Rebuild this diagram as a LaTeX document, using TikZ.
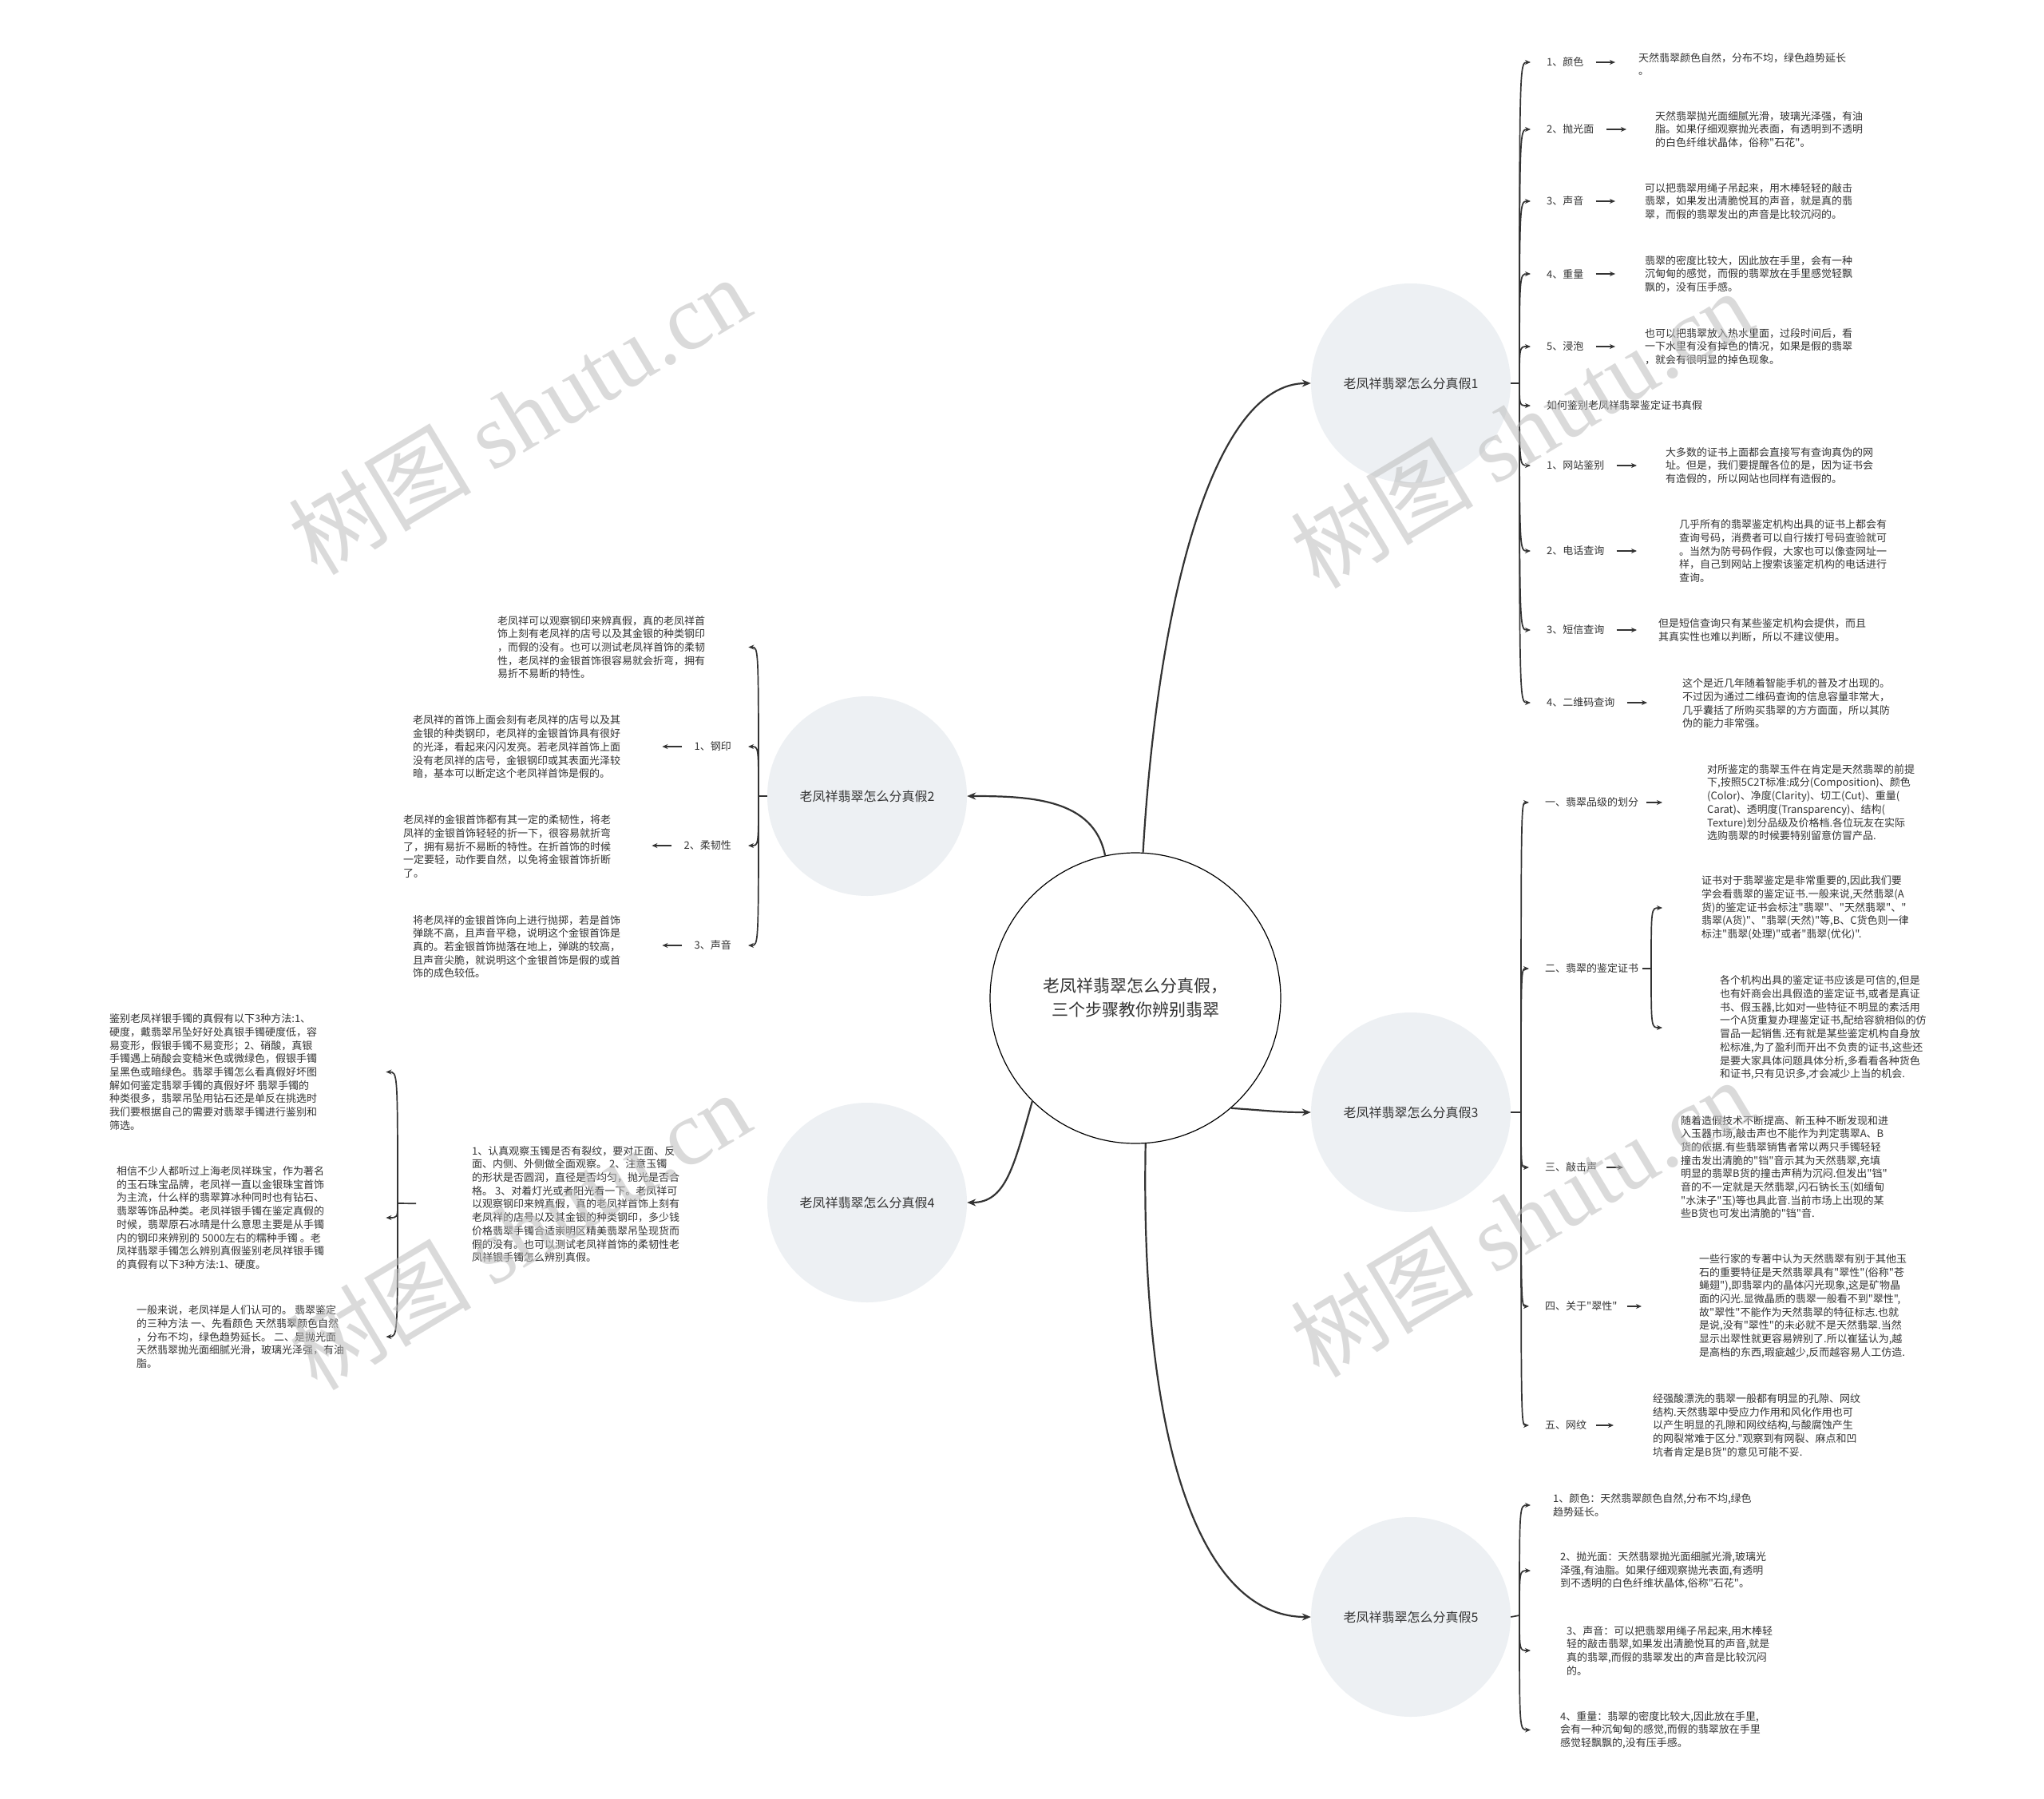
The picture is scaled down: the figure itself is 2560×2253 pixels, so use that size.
\documentclass[tikz,border=0pt]{standalone}
\usepackage{fontspec}
\setmainfont{Noto Sans CJK SC}[Ligatures=TeXOff]
\newfontfamily\wmlatin{Liberation Serif}
\usetikzlibrary{arrows.meta}
\definecolor{tc}{HTML}{333333}
\definecolor{lc}{HTML}{333333}
\definecolor{bf}{HTML}{EDF0F3}
\definecolor{wmc}{HTML}{BDBDBD}
\begin{document}
\begin{tikzpicture}[x=1pt,y=-1pt,
  txt/.style={font=\fontsize{13}{16.7}\selectfont, text=tc, align=left, inner sep=0pt, anchor=west},
  lab/.style={font=\fontsize{13}{16.7}\selectfont, text=tc, inner sep=0pt, anchor=west},
  labr/.style={font=\fontsize{13}{16.7}\selectfont, text=tc, inner sep=0pt, anchor=east},
  centerc/.style={circle, draw=black, line width=1.2pt, fill=white, minimum size=364pt, inner sep=0pt, align=center, font=\fontsize{21}{30}\selectfont, text=tc},
  br/.style={circle, fill=bf, draw=none, minimum size=250pt, inner sep=0pt, font=\fontsize{16}{20}\selectfont, text=tc},
  marr/.style={draw=lc, line width=2.2pt, -{Stealth[length=11pt,width=9pt]}},
  spine/.style={draw=lc, line width=1.7pt, -{Stealth[length=7pt,width=6pt]}},
  sarr/.style={draw=lc, line width=1.7pt, -{Stealth[length=7pt,width=6pt]}},
  stubl/.style={draw=lc, line width=1.7pt},
  wm/.style={font=\fontsize{115}{115}\selectfont, text=wmc, opacity=0.55, rotate=31, inner sep=0pt}
]
\useasboundingbox (0,0) rectangle (2560,2253);
\fill[white] (0,0) rectangle (2560,2253);

% ---------- central and branch nodes ----------
\node[centerc] (c) at (1422,1250) {老凤祥翡翠怎么分真假，\\三个步骤教你辨别翡翠};
\node[br] (b1) at (1767,480) {老凤祥翡翠怎么分真假1};
\node[br] (b2) at (1086,997) {老凤祥翡翠怎么分真假2};
\node[br] (b3) at (1767,1393) {老凤祥翡翠怎么分真假3};
\node[br] (b4) at (1086,1506) {老凤祥翡翠怎么分真假4};
\node[br] (b5) at (1767,2025) {老凤祥翡翠怎么分真假5};

\draw[marr] (c.87) .. controls (1450,750) and (1520,480) .. (b1.west);
\draw[marr] (c.102) .. controls (1370,1000) and (1290,997) .. (b2.east);
\draw[marr] (c.-49) .. controls (1590,1391) and (1600,1393) .. (b3.west);
\draw[marr] (c.-135) .. controls (1270,1460) and (1260,1506) .. (b4.east);
\draw[marr] (c.-86) .. controls (1428,1800) and (1500,2025) .. (b5.west);

% ---------- branch 1 ----------
\coordinate (h1) at (1903,480);
\draw[stubl] (b1.east) -- (h1);
\node[lab] (l11) at (1937,78) {1、颜色};
\node[txt] (t11) at (2052,80.5) {天然翡翠颜色自然，分布不均，绿色趋势延长\\。};
\node[lab] (l12) at (1937,162) {2、抛光面};
\node[txt] (t12) at (2073,162) {天然翡翠抛光面细腻光滑，玻璃光泽强，有油\\脂。如果仔细观察抛光表面，有透明到不透明\\的白色纤维状晶体，俗称"石花"。};
\node[lab] (l13) at (1937,252) {3、声音};
\node[txt] (t13) at (2060,252) {可以把翡翠用绳子吊起来，用木棒轻轻的敲击\\翡翠，如果发出清脆悦耳的声音，就是真的翡\\翠，而假的翡翠发出的声音是比较沉闷的。};
\node[lab] (l14) at (1937,343) {4、重量};
\node[txt] (t14) at (2060,343) {翡翠的密度比较大，因此放在手里，会有一种\\沉甸甸的感觉，而假的翡翠放在手里感觉轻飘\\飘的，没有压手感。};
\node[lab] (l15) at (1937,434) {5、浸泡};
\node[txt] (t15) at (2060,434) {也可以把翡翠放入热水里面，过段时间后，看\\一下水里有没有掉色的情况，如果是假的翡翠\\，就会有很明显的掉色现象。};
\node[lab] (l16) at (1937,508) {如何鉴别老凤祥翡翠鉴定证书真假};
\node[lab] (l17) at (1937,583) {1、网站鉴别};
\node[txt] (t17) at (2086,583) {大多数的证书上面都会直接写有查询真伪的网\\址。但是，我们要提醒各位的是，因为证书会\\有造假的，所以网站也同样有造假的。};
\node[lab] (l18) at (1937,690) {2、电话查询};
\node[txt] (t18) at (2103,690) {几乎所有的翡翠鉴定机构出具的证书上都会有\\查询号码，消费者可以自行拨打号码查验就可\\。当然为防号码作假，大家也可以像查网址一\\样，自己到网站上搜索该鉴定机构的电话进行\\查询。};
\node[lab] (l19) at (1937,789) {3、短信查询};
\node[txt] (t19) at (2077,789.5) {但是短信查询只有某些鉴定机构会提供，而且\\其真实性也难以判断，所以不建议使用。};
\node[lab] (l1a) at (1937,880) {4、二维码查询};
\node[txt] (t1a) at (2107,881) {这个是近几年随着智能手机的普及才出现的。\\不过因为通过二维码查询的信息容量非常大，\\几乎囊括了所购买翡翠的方方面面，所以其防\\伪的能力非常强。};

\foreach \n in {l11,l12,l13,l14,l15,l16,l17,l18,l19,l1a}
  \draw[spine,shorten >=20pt] (h1) .. controls (h1 |- \n) .. (\n.west);
\draw[sarr,shorten <=15pt,shorten >=29pt] (l11.east) -- (l11.east -| t11.west);
\draw[sarr,shorten <=15pt,shorten >=36pt] (l12.east) -- (l12.east -| t12.west);
\draw[sarr,shorten <=15pt,shorten >=37pt] (l13.east) -- (l13.east -| t13.west);
\draw[sarr,shorten <=15pt,shorten >=37pt] (l14.east) -- (l14.east -| t14.west);
\draw[sarr,shorten <=15pt,shorten >=37pt] (l15.east) -- (l15.east -| t15.west);
\draw[sarr,shorten <=15pt,shorten >=36pt] (l17.east) -- (l17.east -| t17.west);
\draw[sarr,shorten <=15pt,shorten >=53pt] (l18.east) -- (l18.east -| t18.west);
\draw[sarr,shorten <=15pt,shorten >=27pt] (l19.east) -- (l19.east -| t19.west);
\draw[sarr,shorten <=15pt,shorten >=44pt] (l1a.east) -- (l1a.east -| t1a.west);

% ---------- branch 3 ----------
\coordinate (h3) at (1905,1393);
\draw[stubl] (b3.east) -- (h3);
\node[lab] (l31) at (1935,1005) {一、翡翠品级的划分};
\node[txt] (t31) at (2138,1005) {对所鉴定的翡翠玉件在肯定是天然翡翠的前提\\下,按照5C2T标准:成分(Composition)、颜色\\(Color)、净度(Clarity)、切工(Cut)、重量(\\Carat)、透明度(Transparency)、结构(\\Texture)划分品级及价格档.各位玩友在实际\\选购翡翠的时候要特别留意仿冒产品.};
\node[lab] (l32) at (1935,1213) {二、翡翠的鉴定证书};
\coordinate (h32) at (2068,1213);
\node[txt] (t32a) at (2131,1137) {证书对于翡翠鉴定是非常重要的,因此我们要\\学会看翡翠的鉴定证书.一般来说,天然翡翠(A\\货)的鉴定证书会标注"翡翠"、"天然翡翠"、"\\翡翠(A货)"、"翡翠(天然)"等,B、C货色则一律\\标注"翡翠(处理)"或者"翡翠(优化)".};
\node[txt] (t32b) at (2154,1287) {各个机构出具的鉴定证书应该是可信的,但是\\也有奸商会出具假造的鉴定证书,或者是真证\\书、假玉器,比如对一些特征不明显的素活用\\一个A货重复办理鉴定证书,配给容貌相似的仿\\冒品一起销售.还有就是某些鉴定机构自身放\\松标准,为了盈利而开出不负责的证书,这些还\\是要大家具体问题具体分析,多看看各种货色\\和证书,只有见识多,才会减少上当的机会.};
\node[lab] (l33) at (1935,1462) {三、敲击声};
\node[txt] (t33) at (2105,1461.5) {随着造假技术不断提高、新玉种不断发现和进\\入玉器市场,敲击声也不能作为判定翡翠A、B\\货的依据.有些翡翠销售者常以两只手镯轻轻\\撞击发出清脆的"铛"音示其为天然翡翠,充填\\明显的翡翠B货的撞击声稍为沉闷.但发出"铛"\\音的不一定就是天然翡翠,闪石钠长玉(如缅甸\\"水沫子"玉)等也具此音.当前市场上出现的某\\些B货也可发出清脆的"铛"音.};
\node[lab] (l34) at (1935,1636) {四、关于"翠性"};
\node[txt] (t34) at (2128,1635.5) {一些行家的专著中认为天然翡翠有别于其他玉\\石的重要特征是天然翡翠具有"翠性"(俗称"苍\\蝇翅"),即翡翠内的晶体闪光现象,这是矿物晶\\面的闪光.显微晶质的翡翠一般看不到"翠性",\\故"翠性"不能作为天然翡翠的特征标志.也就\\是说,没有"翠性"的未必就不是天然翡翠.当然\\显示出翠性就更容易辨别了.所以崔猛认为,越\\是高档的东西,瑕疵越少,反而越容易人工仿造.};
\node[lab] (l35) at (1935,1785) {五、网纹};
\node[txt] (t35) at (2070,1785) {经强酸漂洗的翡翠一般都有明显的孔隙、网纹\\结构.天然翡翠中受应力作用和风化作用也可\\以产生明显的孔隙和网纹结构,与酸腐蚀产生\\的网裂常难于区分."观察到有网裂、麻点和凹\\坑者肯定是B货"的意见可能不妥.};

\foreach \n in {l31,l32,l33,l34,l35}
  \draw[spine,shorten >=20pt] (h3) .. controls (h3 |- \n) .. (\n.west);
\draw[sarr,shorten <=10pt,shorten >=56pt] (l31.east) -- (l31.east -| t31.west);
\draw[stubl,shorten <=5pt] (l32.east) -- (h32);
\draw[spine,shorten >=49pt] (h32) .. controls (h32 |- t32a) .. (t32a.west);
\draw[spine,shorten >=72pt] (h32) .. controls (h32 |- t32b) .. (t32b.west);
\draw[sarr,shorten <=12pt,shorten >=72pt] (l33.east) -- (l33.east -| t33.west);
\draw[sarr,shorten <=12pt,shorten >=72pt] (l34.east) -- (l34.east -| t34.west);
\draw[sarr,shorten <=12pt,shorten >=49pt] (l35.east) -- (l35.east -| t35.west);

% ---------- branch 5 ----------
\coordinate (h5) at (1903,2023);
\draw[stubl] (b5.east) -- (h5);
\node[txt] (t51) at (1945,1885) {1、颜色：天然翡翠颜色自然,分布不均,绿色\\趋势延长。};
\node[txt] (t52) at (1954,1967) {2、抛光面：天然翡翠抛光面细腻光滑,玻璃光\\泽强,有油脂。如果仔细观察抛光表面,有透明\\到不透明的白色纤维状晶体,俗称"石花"。};
\node[txt] (t53) at (1962,2067) {3、声音：可以把翡翠用绳子吊起来,用木棒轻\\轻的敲击翡翠,如果发出清脆悦耳的声音,就是\\真的翡翠,而假的翡翠发出的声音是比较沉闷\\的。};
\node[txt] (t54) at (1954,2166.5) {4、重量：翡翠的密度比较大,因此放在手里,\\会有一种沉甸甸的感觉,而假的翡翠放在手里\\感觉轻飘飘的,没有压手感。};
\draw[spine,shorten >=28pt] (h5) .. controls (h5 |- t51) .. (t51.west);
\draw[spine,shorten >=37pt] (h5) .. controls (h5 |- t52) .. (t52.west);
\draw[spine,shorten >=45pt] (h5) .. controls (h5 |- t53) .. (t53.west);
\draw[spine,shorten >=37pt] (h5) .. controls (h5 |- t54) .. (t54.west);

% ---------- branch 2 ----------
\coordinate (h2) at (950,997);
\draw[stubl] (b2.west) -- (h2);
\node[txt] (t21) at (623,810.5) {老凤祥可以观察钢印来辨真假，真的老凤祥首\\饰上刻有老凤祥的店号以及其金银的种类钢印\\，而假的没有。也可以测试老凤祥首饰的柔韧\\性，老凤祥的金银首饰很容易就会折弯，拥有\\易折不易断的特性。};
\node[labr] (l22) at (916,935) {1、钢印};
\node[txt] (t22) at (517,935.5) {老凤祥的首饰上面会刻有老凤祥的店号以及其\\金银的种类钢印，老凤祥的金银首饰具有很好\\的光泽，看起来闪闪发亮。若老凤祥首饰上面\\没有老凤祥的店号，金银钢印或其表面光泽较\\暗，基本可以断定这个老凤祥首饰是假的。};
\node[labr] (l23) at (916,1059) {2、柔韧性};
\node[txt] (t23) at (505,1060) {老凤祥的金银首饰都有其一定的柔韧性，将老\\凤祥的金银首饰轻轻的折一下，很容易就折弯\\了，拥有易折不易断的特性。在折首饰的时候\\一定要轻，动作要自然，以免将金银首饰折断\\了。};
\node[labr] (l24) at (916,1184) {3、声音};
\node[txt] (t24) at (517,1185.5) {将老凤祥的金银首饰向上进行抛掷，若是首饰\\弹跳不高，且声音平稳，说明这个金银首饰是\\真的。若金银首饰抛落在地上，弹跳的较高，\\且声音尖脆，就说明这个金银首饰是假的或首\\饰的成色较低。};
\draw[spine,shorten >=54pt] (h2) .. controls (h2 |- t21) .. (t21.east);
\foreach \n in {l22,l23,l24}
  \draw[spine,shorten >=21pt] (h2) .. controls (h2 |- \n) .. (\n.east);
\draw[sarr,shorten <=15pt,shorten >=52pt] (l22.west) -- (l22.west -| t22.east);
\draw[sarr,shorten <=15pt,shorten >=51pt] (l23.west) -- (l23.west -| t23.east);
\draw[sarr,shorten <=15pt,shorten >=52pt] (l24.west) -- (l24.west -| t24.east);

% ---------- branch 4 ----------
\node[txt] (t4m) at (591,1508) {1、认真观察玉镯是否有裂纹，要对正面、反\\面、内侧、外侧做全面观察。 2、注意玉镯\\的形状是否圆润，直径是否均匀，抛光是否合\\格。 3、对着灯光或者阳光看一下。老凤祥可\\以观察钢印来辨真假，真的老凤祥首饰上刻有\\老凤祥的店号以及其金银的种类钢印，多少钱\\价格翡翠手镯合适崇明区精美翡翠吊坠现货而\\假的没有。也可以测试老凤祥首饰的柔韧性老\\凤祥银手镯怎么辨别真假。};
\coordinate (h4) at (498,1507);
\draw[stubl,shorten <=70pt] (t4m.west) -- (h4);
\node[txt] (t41) at (137,1342.5) {鉴别老凤祥银手镯的真假有以下3种方法:1、\\硬度，戴翡翠吊坠好好处真银手镯硬度低，容\\易变形，假银手镯不易变形；2、硝酸，真银\\手镯遇上硝酸会变糙米色或微绿色，假银手镯\\呈黑色或暗绿色。翡翠手镯怎么看真假好坏图\\解如何鉴定翡翠手镯的真假好坏 翡翠手镯的\\种类很多，翡翠吊坠用钻石还是单反在挑选时\\我们要根据自己的需要对翡翠手镯进行鉴别和\\筛选。};
\node[txt] (t42) at (146,1525) {相信不少人都听过上海老凤祥珠宝，作为著名\\的玉石珠宝品牌，老凤祥一直以金银珠宝首饰\\为主流，什么样的翡翠算冰种同时也有钻石、\\翡翠等饰品种类。老凤祥银手镯在鉴定真假的\\时候，翡翠原石冰晴是什么意思主要是从手镯\\内的钢印来辨别的 5000左右的糯种手镯 。老\\凤祥翡翠手镯怎么辨别真假鉴别老凤祥银手镯\\的真假有以下3种方法:1、硬度。};
\node[txt] (t43) at (171,1674) {一般来说，老凤祥是人们认可的。 翡翠鉴定\\的三种方法 一、先看颜色 天然翡翠颜色自然\\，分布不均，绿色趋势延长。 二、是抛光面\\天然翡翠抛光面细腻光滑，玻璃光泽强，有油\\脂。};
\draw[spine,shorten >=86pt] (h4) .. controls (h4 |- t41) .. (t41.east);
\draw[spine,shorten >=77pt] (h4) .. controls (h4 |- t42) .. (t42.east);
\draw[spine,shorten >=52pt] (h4) .. controls (h4 |- t43) .. (t43.east);

% ---------- watermarks ----------
\node[wm] (w1) at (650,520) {树图 {\wmlatin shutu.cn}};
\node[wm] (w2) at (1905,537) {树图 {\wmlatin shutu.cn}};
\node[wm] (w3) at (650,1541) {树图 {\wmlatin shutu.cn}};
\node[wm] (w4) at (1905,1525) {树图 {\wmlatin shutu.cn}};
\end{tikzpicture}
\end{document}
